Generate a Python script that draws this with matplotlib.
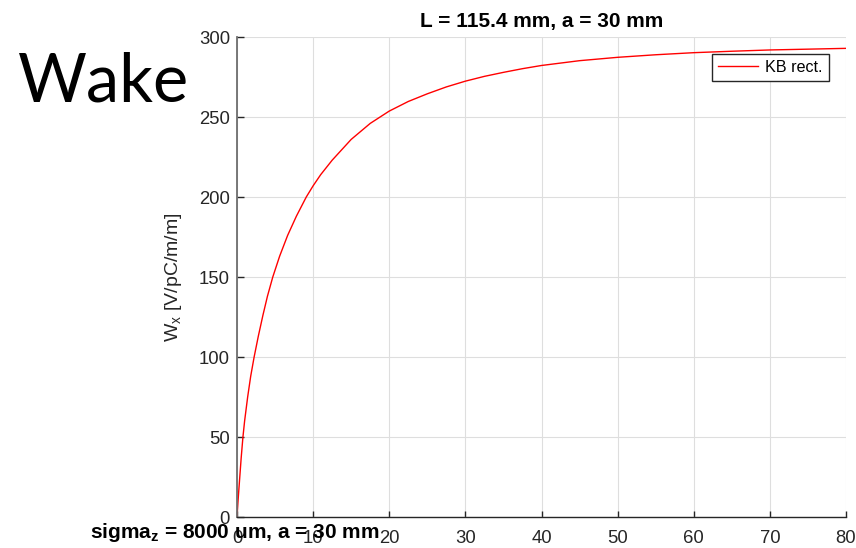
import matplotlib

matplotlib.use("Agg")
import matplotlib.pyplot as plt

# transverse wake, KB rectangular model (values in V/pC/m/m)
s_mm = [0, 0.15, 0.35, 0.55, 0.78, 1.0, 1.4, 1.8, 2.25, 2.8, 3.4, 4.0,
        4.7, 5.6, 6.65, 7.8, 9.1, 10, 11, 12.5, 15, 17.5, 20, 22.5,
        25, 27.5, 30, 32.5, 35, 37.5, 40, 45, 50, 55, 60, 65, 70, 75, 80]
wake_x = [0, 11, 24, 37, 50, 60, 75, 88, 100, 113, 126, 138,
          150, 163, 176, 188, 200, 207, 214, 223, 236, 246, 253.7, 259.7,
          264.5, 268.8, 272.4, 275.4, 277.9, 280.2, 282.2, 285.2, 287.3,
          288.9, 290.2, 291.1, 291.9, 292.4, 292.9]

series_label = "KB rect."
title = "L = 115.4 mm, a = 30 mm"
ylabel = r"$\mathregular{W_x}$ [V/pC/m/m]"
note = r"$\mathbf{sigma_z}$ = 8000 um, a = 30 mm"
heading = "Wake"

x_ticks = [0, 10, 20, 30, 40, 50, 60, 70, 80]
y_ticks = [0, 50, 100, 150, 200, 250, 300]

plt.rcParams["font.family"] = ["Liberation Sans", "DejaVu Sans"]
plt.rcParams["mathtext.fontset"] = "custom"
plt.rcParams["mathtext.rm"] = "Liberation Sans"
plt.rcParams["mathtext.it"] = "Liberation Sans:italic"
plt.rcParams["mathtext.bf"] = "Liberation Sans:bold"

DARK = "#262626"

fig = plt.figure(figsize=(8.56, 5.48), dpi=100)
ax = fig.add_axes([237 / 856, 31 / 548, 609 / 856, 480 / 548])

ax.plot(s_mm, wake_x, color="red", lw=1.0, label=series_label)

ax.set_xlim(0, 80)
ax.set_ylim(0, 300)
ax.set_xticks(x_ticks)
ax.set_yticks(y_ticks)
ax.grid(True, color="#dedede", lw=0.8)
ax.set_axisbelow(True)

for side in ("top", "right"):
    ax.spines[side].set_visible(False)
ax.spines["left"].set_color("#6e6e6e")
ax.spines["left"].set_linewidth(1.3)
ax.spines["bottom"].set_color(DARK)
ax.spines["bottom"].set_linewidth(1.0)

ax.tick_params(axis="both", direction="in", colors=DARK, labelsize=13.3,
               width=1.0)
ax.tick_params(axis="y", length=5, pad=5)
ax.tick_params(axis="x", length=4.5, pad=9.5)

ax.set_ylabel(ylabel, fontsize=14, color=DARK)
ax.yaxis.set_label_coords(-0.087, 0.5)
ax.set_title(title, fontsize=15, fontweight="bold", pad=7)

leg = ax.legend(loc="upper right", bbox_to_anchor=(0.972, 0.965),
                borderaxespad=0, fancybox=False, framealpha=1,
                fontsize=11.6, handlelength=2.5, borderpad=0.38,
                handletextpad=0.45)
leg.get_frame().set_edgecolor(DARK)
leg.get_frame().set_linewidth(1.0)

fig.text(18 / 856, (548 - 102) / 548, heading, fontsize=48,
         family=["Lato", "DejaVu Sans"], ha="left", va="baseline")
fig.text(234.5 / 856, 10 / 548, note, fontsize=15, fontweight="bold",
         ha="center", va="baseline")

fig.savefig("out.png", dpi=100)
